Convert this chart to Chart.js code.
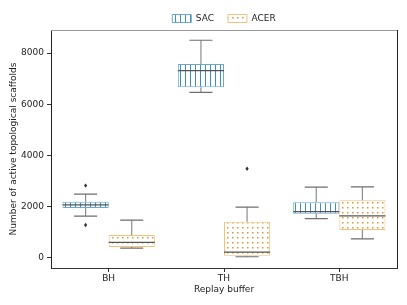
<!DOCTYPE html>
<html>
<head>
<meta charset="utf-8">
<script src="https://cdn.jsdelivr.net/npm/chart.js@4.4.0/dist/chart.umd.min.js"></script>
<style>
  html, body { margin: 0; padding: 0; background: #fff; }
  #wrap { width: 407px; height: 305px; }
</style>
</head>
<body>
<div id="wrap"><canvas id="chart" width="407" height="305"></canvas></div>
<script>
// categories
const buffers = ["BH", "TH", "TBH"];

// SAC box stats
const sacMin = [1630, 6460, 1530];
const sacQ1 = [1940, 6660, 1720];
const sacMed = [2070, 7310, 1800];
const sacQ3 = [2185, 7570, 2170];
const sacMax = [2490, 8500, 2760];
const sacOutliers = [[2820, 1280], [], []];

// ACER box stats
const acerMin = [380, 40, 740];
const acerQ1 = [420, 80, 1080];
const acerMed = [600, 220, 1640];
const acerQ3 = [890, 1405, 2250];
const acerMax = [1470, 1980, 2770];
const acerOutliers = [[], [3480], []];

const yTicks = [0, 2000, 4000, 6000, 8000];

const font = { family: "DejaVu Sans", size: 9 };

// hatch patterns
function makePattern(kind) {
  const c = document.createElement("canvas");
  c.width = 5; c.height = 5;
  const g = c.getContext("2d");
  g.fillStyle = "#fff";
  g.fillRect(0, 0, 5, 5);
  if (kind === "lines") {
    g.fillStyle = "#3f8dc2";
    g.fillRect(0, 0, 1, 5);
  } else {
    g.fillStyle = "#de9630";
    g.fillRect(2, 2, 1.5, 1.5);
  }
  return g.createPattern(c, "repeat");
}

const stats = [
  { min: sacMin, med: sacMed, max: sacMax, out: sacOutliers, q1: sacQ1, q3: sacQ3 },
  { min: acerMin, med: acerMed, max: acerMax, out: acerOutliers, q1: acerQ1, q3: acerQ3 }
];

const boxExtras = {
  id: "boxExtras",
  beforeUpdate(chart) {
    if (chart.legend && !chart.legend._fixed) {
      const fit = chart.legend.fit;
      chart.legend.fit = function () { fit.call(this); this.height = 30; };
      chart.legend._fixed = true;
    }
  },
  afterDatasetsDraw(chart) {
    const ctx = chart.ctx;
    const y = chart.scales.y;
    ctx.save();
    stats.forEach((s, di) => {
      const meta = chart.getDatasetMeta(di);
      meta.data.forEach((bar, i) => {
        const x = bar.x;
        const cap = bar.width / 4;
        const pMin = y.getPixelForValue(s.min[i]);
        const pMax = y.getPixelForValue(s.max[i]);
        const pQ1 = y.getPixelForValue(s.q1[i]);
        const pQ3 = y.getPixelForValue(s.q3[i]);
        const pMed = y.getPixelForValue(s.med[i]);
        // whiskers
        ctx.strokeStyle = "#8c8c8c";
        ctx.lineWidth = 1.2;
        ctx.beginPath();
        ctx.moveTo(x, pQ3); ctx.lineTo(x, pMax);
        ctx.moveTo(x, pQ1); ctx.lineTo(x, pMin);
        ctx.stroke();
        ctx.strokeStyle = "#6e6e6e";
        ctx.beginPath();
        ctx.moveTo(x - cap, pMax); ctx.lineTo(x + cap, pMax);
        ctx.moveTo(x - cap, pMin); ctx.lineTo(x + cap, pMin);
        ctx.stroke();
        // median
        ctx.strokeStyle = "#555";
        ctx.lineWidth = 1.3;
        ctx.beginPath();
        ctx.moveTo(bar.x - bar.width / 2, pMed); ctx.lineTo(bar.x + bar.width / 2, pMed);
        ctx.stroke();
        // outliers
        ctx.fillStyle = "#333";
        s.out[i].forEach(v => {
          const p = y.getPixelForValue(v);
          ctx.beginPath();
          ctx.moveTo(x, p - 2.2); ctx.lineTo(x + 1.6, p);
          ctx.lineTo(x, p + 2.2); ctx.lineTo(x - 1.6, p);
          ctx.closePath();
          ctx.fill();
        });
      });
    });
    // frame top and right
    const a = chart.chartArea;
    ctx.lineWidth = 1;
    ctx.strokeStyle = "#999";
    ctx.beginPath();
    ctx.moveTo(a.left, a.top + 0.5); ctx.lineTo(a.right, a.top + 0.5);
    ctx.stroke();
    ctx.strokeStyle = "#222";
    ctx.beginPath();
    ctx.moveTo(a.right + 0.5, a.top); ctx.lineTo(a.right + 0.5, a.bottom);
    ctx.stroke();
    ctx.restore();
  }
};

new Chart(document.getElementById("chart"), {
  type: "bar",
  data: {
    labels: buffers,
    datasets: [
      {
        label: "SAC",
        data: buffers.map((b, i) => [sacQ1[i], sacQ3[i]]),
        backgroundColor: makePattern("lines"),
        borderColor: "#6aa8d2",
        borderWidth: 1,
        borderSkipped: false
      },
      {
        label: "ACER",
        data: buffers.map((b, i) => [acerQ1[i], acerQ3[i]]),
        backgroundColor: makePattern("dots"),
        borderColor: "#efc27f",
        borderWidth: 1,
        borderSkipped: false
      }
    ]
  },
  options: {
    responsive: false,
    animation: false,
    categoryPercentage: 0.8,
    barPercentage: 1.0,
    layout: { padding: { left: 0, right: 10, top: 0, bottom: 0 } },
    plugins: {
      tooltip: { enabled: false },
      legend: {
        position: "top",
        fullSize: false,
        labels: {
          font: font,
          color: "#222",
          boxWidth: 19,
          boxHeight: 8,
          padding: 14
        }
      }
    },
    scales: {
      x: {
        grid: { drawOnChartArea: false, offset: false, tickLength: 4, color: "#333" },
        border: { display: true, color: "#333" },
        ticks: { font: font, color: "#222", padding: 1 },
        title: { display: true, text: "Replay buffer", font: font, color: "#222", padding: { top: 0, bottom: 10 } },
        afterFit(scale) { scale.height = 37; }
      },
      y: {
        min: -400,
        max: 8900,
        afterBuildTicks(scale) { scale.ticks = yTicks.map(v => ({ value: v })); },
        grid: { drawOnChartArea: false, tickLength: 4, color: "#333" },
        border: { display: true, color: "#222" },
        ticks: { font: font, color: "#222", padding: 3, callback: v => String(v) },
        title: { display: true, text: "Number of active topological scaffolds", font: font, color: "#222", padding: { top: 8, bottom: 0 } },
        afterFit(scale) { scale.width = 51; }
      }
    }
  },
  plugins: [boxExtras]
});
</script>
</body>
</html>
